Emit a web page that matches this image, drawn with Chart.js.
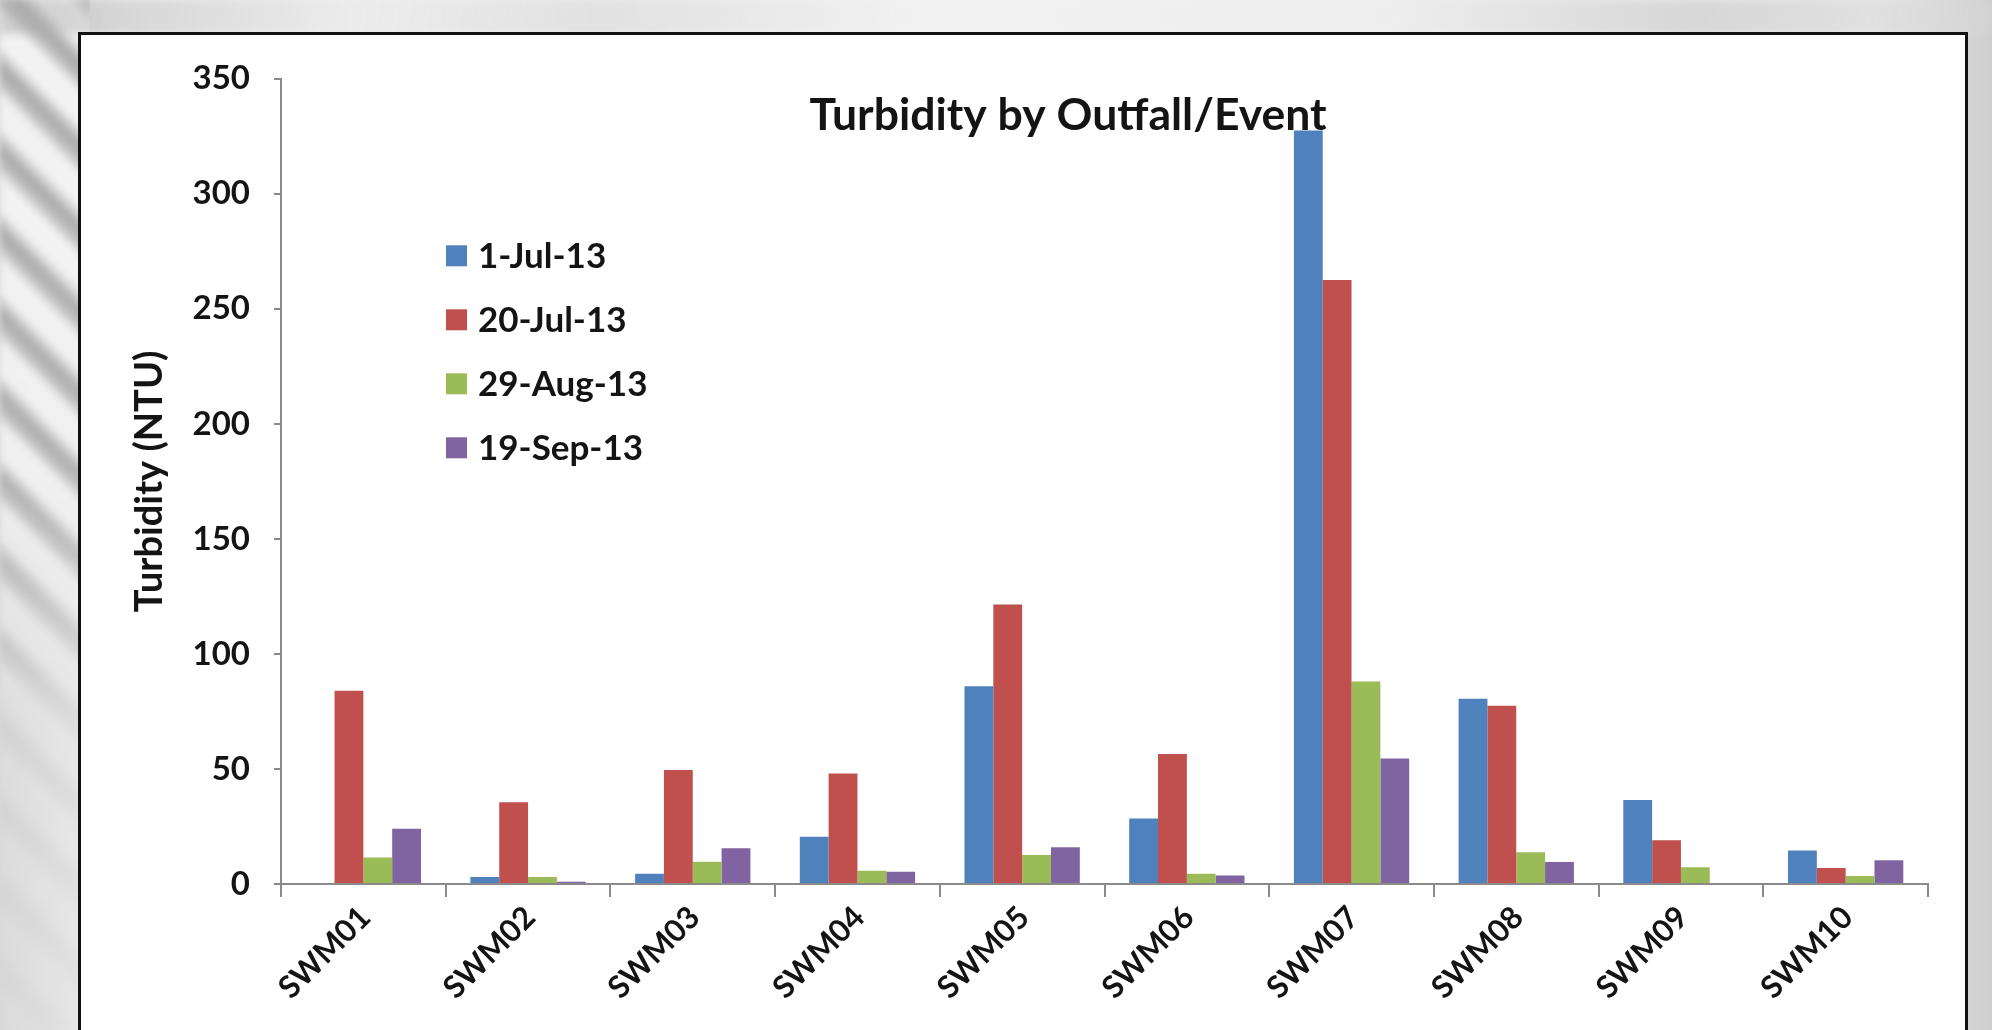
<!DOCTYPE html>
<html>
<head>
<meta charset="utf-8">
<title>Turbidity by Outfall/Event</title>
<script src="https://cdn.jsdelivr.net/npm/chart.js@4.4.1/dist/chart.umd.min.js"></script>
<style>
  html, body { margin: 0; padding: 0; width: 1992px; height: 1030px; overflow: hidden; }
  body {
    position: relative;
    background: linear-gradient(90deg, #d9d9d9 0%, #ececec 6%, #f1f1f1 50%, #e9e9e9 94%, #cfcfcf 100%);
  }
  /* soft diagonal streaks behind the chart panel */
  .streaks {
    position: absolute; left: 0; top: 0; width: 90px; height: 1030px;
    background: repeating-linear-gradient(45deg, #f2f2f2 0px, #f2f2f2 22px, #b9b9b9 34px, #a9a9a9 44px, #ececec 58px);
    -webkit-mask-image: linear-gradient(180deg, rgba(0,0,0,1) 0%, rgba(0,0,0,0.9) 45%, rgba(0,0,0,0.15) 70%, rgba(0,0,0,0.05) 100%);
    mask-image: linear-gradient(180deg, rgba(0,0,0,1) 0%, rgba(0,0,0,0.9) 45%, rgba(0,0,0,0.15) 70%, rgba(0,0,0,0.05) 100%);
    filter: blur(3px);
  }
  .topwash {
    position: absolute; left: 0; top: 0; width: 1992px; height: 34px;
    background: linear-gradient(100deg, rgba(170,170,170,0.5) 0%, rgba(235,235,235,0.2) 18%, rgba(200,200,200,0.35) 30%, rgba(245,245,245,0.1) 45%, rgba(245,245,245,0.1) 70%, rgba(190,190,190,0.45) 85%, rgba(230,230,230,0.2) 100%);
    filter: blur(4px);
  }
  #frame {
    position: absolute; left: 78px; top: 32px;
    width: 1884px; height: 1004px;
    border: 3px solid #111;
    background: #fff;
  }
  canvas { display: block; }
</style>
</head>
<body>
<div class="streaks"></div>
<div class="topwash"></div>
<div id="frame"><canvas id="chart" width="1884" height="1004"></canvas></div>
<script>
// Outfall stations along the x axis
const outfalls = ['SWM01', 'SWM02', 'SWM03', 'SWM04', 'SWM05', 'SWM06', 'SWM07', 'SWM08', 'SWM09', 'SWM10'];

// Sampling events (series names)
const eventDates = ['1-Jul-13', '20-Jul-13', '29-Aug-13', '19-Sep-13'];

// Turbidity in NTU for each event, one value per outfall
const jul01 = [0, 3, 4.5, 20.5, 86, 28.5, 327.5, 80.5, 36.5, 14.6];
const jul20 = [84, 35.5, 49.5, 48, 121.5, 56.5, 262.5, 77.5, 19, 7];
const aug29 = [11.5, 3, 9.7, 5.8, 12.6, 4.5, 88, 13.8, 7.3, 3.5];
const sep19 = [24, 1, 15.5, 5.3, 16, 3.7, 54.5, 9.6, 0, 10.3];

// y axis range and tick step
const yMin = 0;
const yMax = 350;
const yStep = 50;

const seriesValues = [jul01, jul20, aug29, sep19];
const seriesColors = ['#4F81BD', '#C0504D', '#9BBB59', '#8064A2'];

const FONT = 'Lato, Carlito, Calibri, "Open Sans", sans-serif';
const INK = '#141414';
const AXIS = '#8a8a8a';

// Title drawn over the plot area
const overlayTitle = {
  id: 'overlayTitle',
  afterDraw(chart, args, opts) {
    const { ctx, chartArea } = chart;
    ctx.save();
    ctx.font = `bold ${opts.size}px ${FONT}`;
    ctx.fillStyle = INK;
    ctx.textAlign = 'center';
    ctx.textBaseline = 'alphabetic';
    ctx.fillText(opts.text, chartArea.left + opts.dx, chartArea.top + opts.dy);
    ctx.restore();
  }
};

// Vertical legend placed inside the plot area
const insetLegend = {
  id: 'insetLegend',
  afterDraw(chart, args, opts) {
    const { ctx, chartArea } = chart;
    ctx.save();
    ctx.font = `bold ${opts.size}px ${FONT}`;
    ctx.textBaseline = 'middle';
    ctx.textAlign = 'left';
    chart.data.datasets.forEach((ds, i) => {
      const x = chartArea.left + opts.dx;
      const y = chartArea.top + opts.dy + i * opts.rowGap;
      ctx.fillStyle = ds.backgroundColor;
      ctx.fillRect(x, y - opts.box / 2, opts.box, opts.box);
      ctx.fillStyle = INK;
      ctx.fillText(ds.label, x + opts.box + opts.gap, y + 1);
    });
    ctx.restore();
  }
};

const datasets = eventDates.map((label, i) => ({
  label,
  data: seriesValues[i],
  backgroundColor: seriesColors[i],
  borderWidth: 0,
  categoryPercentage: 0.70,
  barPercentage: 1.0
}));

new Chart(document.getElementById('chart'), {
  type: 'bar',
  data: { labels: outfalls, datasets },
  plugins: [overlayTitle, insetLegend],
  options: {
    responsive: false,
    animation: false,
    layout: { padding: { left: 0, top: 40, right: 37, bottom: 0 } },
    plugins: {
      legend: { display: false },
      tooltip: { enabled: false },
      title: { display: false },
      overlayTitle: { text: 'Turbidity by Outfall/Event', size: 44.5, dx: 787, dy: 51 },
      insetLegend: { size: 35, box: 21, gap: 11, dx: 165, dy: 177, rowGap: 64 }
    },
    scales: {
      x: {
        afterFit(scale) { scale.height = 155; },
        grid: {
          display: true, drawOnChartArea: false, drawTicks: true,
          tickLength: 13, color: AXIS, lineWidth: 2, offset: true
        },
        border: { display: true, color: AXIS, width: 2 },
        ticks: {
          color: INK, minRotation: 45, maxRotation: 45, padding: 2, labelOffset: 2,
          font: { family: FONT, size: 31, weight: 'bold' }
        }
      },
      y: {
        min: yMin, max: yMax,
        afterFit(scale) { scale.width = 200; },
        grid: {
          display: true, drawOnChartArea: false, drawTicks: true,
          tickLength: 7, color: AXIS, lineWidth: 2
        },
        border: { display: true, color: AXIS, width: 2 },
        ticks: {
          stepSize: yStep, color: INK, padding: 24,
          font: { family: FONT, size: 33, weight: 'bold' }
        },
        title: {
          display: true, text: 'Turbidity (NTU)', color: INK,
          font: { family: FONT, size: 38, weight: 'bold' },
          padding: { top: 46, bottom: 0 }
        }
      }
    }
  }
});
</script>
</body>
</html>
